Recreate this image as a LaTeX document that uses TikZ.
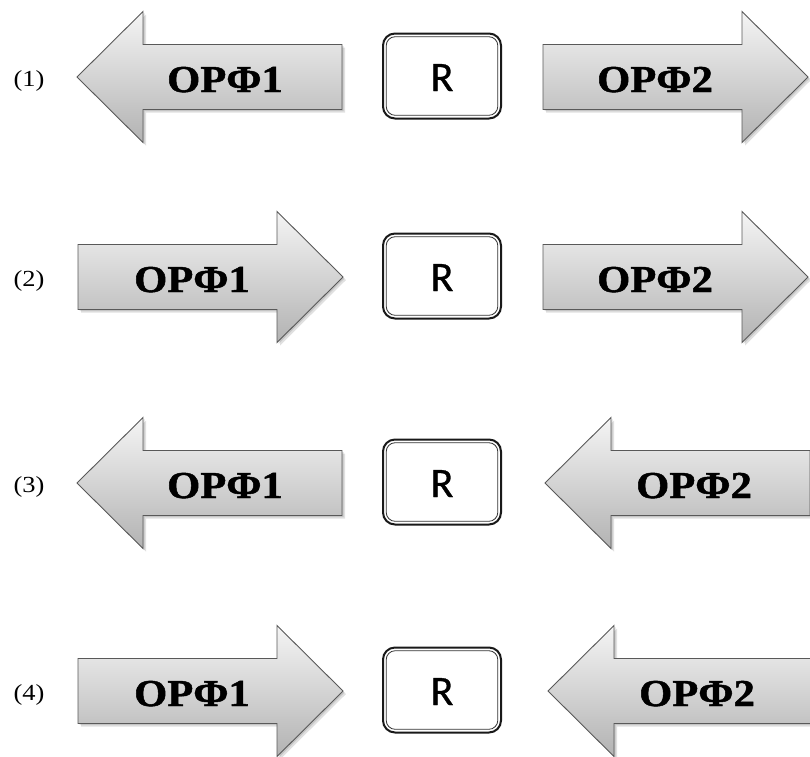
\documentclass[tikz,border=0pt]{standalone}
\usepackage{fontspec}
\setmainfont{Liberation Serif}
\newfontfamily\opfont{Liberation Serif}[BoldFont={Liberation Serif Bold},BoldFeatures={FakeBold=1.2}]
\newfontfamily\rfont{Carlito}[FakeBold=0.8]
\begin{document}
\begin{tikzpicture}[x=1pt,y=-1pt,
  arrowfill/.style={draw=black!65, line width=0.9pt, line join=miter,
    top color=black!4, bottom color=black!30},
  arrowshade/.style={fill=black, opacity=0.12},
  optext/.style={anchor=base, inner sep=0pt, font=\opfont\bfseries\fontsize{38}{40}\selectfont},
  rbox/.style={draw=black!90, line width=2pt, rounded corners=12pt, fill=white,
    minimum width=118pt, minimum height=85pt, outer sep=0pt, inner sep=0pt},
  rinner/.style={draw=black!80, line width=0.8pt, rounded corners=9pt},
  rtext/.style={anchor=base, inner sep=0pt, font=\rfont\fontsize{42}{44}\selectfont},
  numlabel/.style={anchor=base, inner sep=0pt, font=\fontsize{23}{24}\selectfont}
]
\useasboundingbox (0,0) rectangle (810,756);
\newcommand{\myLarrow}[2]{%
  \foreach \s in {1.5,3}{\fill[arrowshade,shift={(\s,\s)}] (#1,#2) -- ++(66,-65.5) -- ++(0,33) -- ++(199,0) -- ++(0,65) -- ++(-199,0) -- ++(0,33) -- cycle;}
  \path[arrowfill] (#1,#2) -- ++(66,-65.5) -- ++(0,33) -- ++(199,0) -- ++(0,65) -- ++(-199,0) -- ++(0,33) -- cycle;}
\newcommand{\myRarrow}[2]{%
  \foreach \s in {1.5,3}{\fill[arrowshade,shift={(\s,\s)}] (#1,#2) -- ++(-66,-65.5) -- ++(0,33) -- ++(-199,0) -- ++(0,65) -- ++(199,0) -- ++(0,33) -- cycle;}
  \path[arrowfill] (#1,#2) -- ++(-66,-65.5) -- ++(0,33) -- ++(-199,0) -- ++(0,65) -- ++(199,0) -- ++(0,33) -- cycle;}
\newcommand{\myRbox}[2]{%
  \node[rbox] (#1) at (442,#2) {};
  \draw[rinner] ([shift={(3.2,3.2)}]#1.north west) rectangle ([shift={(-3.2,-3.2)}]#1.south east);
  \node[rtext] (#1t) at (442,#2+15) {R};}
% row 1
\node[numlabel] (n1) at (29,86) {\scalebox{1.15}[1]{(1)}};
\myLarrow{77}{77}
\node[optext] (a1) at (225,92) {\scalebox{1.12}[1]{OPΦ1}};
\myRbox{r1}{76}
\myRarrow{808}{77}
\node[optext] (b1) at (655,92) {\scalebox{1.12}[1]{OPΦ2}};
% row 2
\node[numlabel] (n2) at (29,286) {\scalebox{1.15}[1]{(2)}};
\myRarrow{343}{277}
\node[optext] (a2) at (192,292) {\scalebox{1.12}[1]{OPΦ1}};
\myRbox{r2}{276}
\myRarrow{808}{277}
\node[optext] (b2) at (655,292) {\scalebox{1.12}[1]{OPΦ2}};
% row 3
\node[numlabel] (n3) at (29,492) {\scalebox{1.15}[1]{(3)}};
\myLarrow{77}{483}
\node[optext] (a3) at (225,498) {\scalebox{1.12}[1]{OPΦ1}};
\myRbox{r3}{482}
\myLarrow{545}{483}
\node[optext] (b3) at (694,498) {\scalebox{1.12}[1]{OPΦ2}};
% row 4
\node[numlabel] (n4) at (29,700) {\scalebox{1.15}[1]{(4)}};
\myRarrow{343}{691}
\node[optext] (a4) at (192,706) {\scalebox{1.12}[1]{OPΦ1}};
\myRbox{r4}{690}
\myLarrow{548}{691}
\node[optext] (b4) at (697,706) {\scalebox{1.12}[1]{OPΦ2}};
\end{tikzpicture}
\end{document}
